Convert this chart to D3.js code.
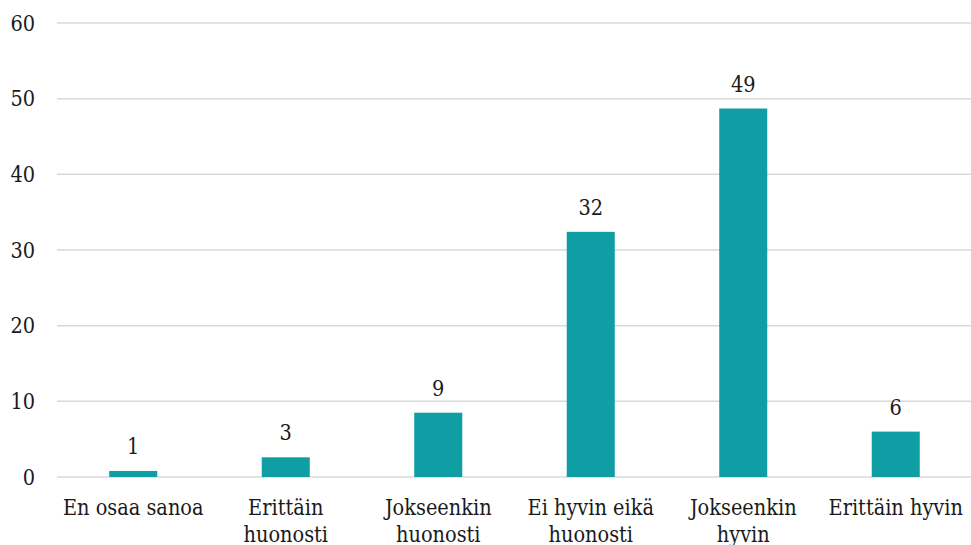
<!DOCTYPE html>
<html><head><meta charset="utf-8">
<script src="https://cdn.jsdelivr.net/npm/d3@7"></script>
<style>body{margin:0;background:#fff}svg{display:block}text{font-family:"DejaVu Serif Condensed","DejaVu Serif",serif;font-stretch:condensed;fill:#1a1a1a}</style>
</head><body><svg id="c" width="971" height="545"></svg>
<script>
const categories = ["En osaa sanoa","Erittäin huonosti","Jokseenkin huonosti","Ei hyvin eikä huonosti","Jokseenkin hyvin","Erittäin hyvin"];
const values = [0.8, 2.6, 8.5, 32.4, 48.7, 6.0];
const labels = ["1","3","9","32","49","6"];
const yTicks = [0,10,20,30,40,50,60];

const svg = d3.select("#c");
const x = d3.scaleBand().domain(categories).range([57, 972]).paddingInner(0.685).paddingOuter(0.3425);
const y = d3.scaleLinear().domain([0,60]).range([477, 23]);
const fs = 21.5;

const gy = svg.append("g");
yTicks.forEach(t => {
  gy.append("line").attr("x1",57).attr("x2",971).attr("y1",y(t)).attr("y2",y(t))
    .attr("stroke","#d9d9d9").attr("stroke-width",1.5);
  gy.append("text").attr("x",35).attr("y",y(t)).attr("dy","0.36em").attr("text-anchor","end")
    .attr("font-size",fs).text(t);
});

svg.append("g").selectAll("rect").data(categories).join("rect")
  .attr("x", d=>x(d)).attr("width", x.bandwidth())
  .attr("y", (d,i)=>y(values[i])).attr("height",(d,i)=>y(0)-y(values[i]))
  .attr("fill","#109ea5");

svg.append("g").selectAll("text").data(categories).join("text")
  .attr("x", d=>x(d)+x.bandwidth()/2).attr("y",(d,i)=>y(values[i])-17)
  .attr("text-anchor","middle").attr("font-size",fs).text((d,i)=>labels[i]);

// x labels with wrapping
const step = x.step();
const gx = svg.append("g");
categories.forEach(c => {
  const cx = x(c)+x.bandwidth()/2;
  const t = gx.append("text").attr("x",cx).attr("y",515).attr("text-anchor","middle").attr("font-size",fs);
  const words = c.split(" ");
  let lines=[], cur=[];
  const probe = gx.append("text").attr("font-size",fs);
  words.forEach(w=>{
    const test = cur.concat([w]).join(" ");
    probe.text(test);
    if (probe.node().getComputedTextLength() > step-2 && cur.length){ lines.push(cur.join(" ")); cur=[w]; }
    else cur.push(w);
  });
  lines.push(cur.join(" "));
  probe.remove();
  lines.forEach((l,i)=>t.append("tspan").attr("x",cx).attr("dy", i===0?0:27).text(l));
});
</script></body></html>
